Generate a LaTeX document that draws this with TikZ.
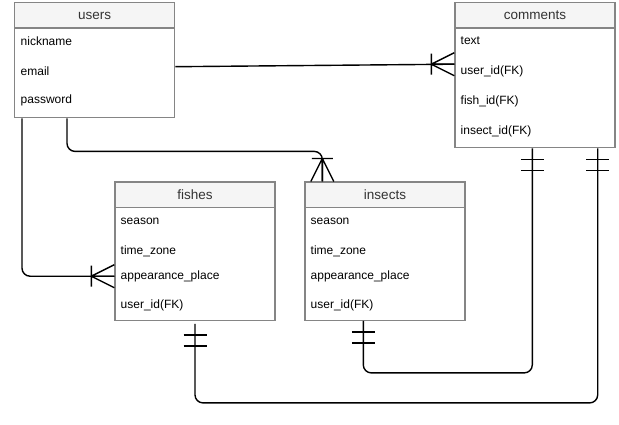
\documentclass[tikz,border=0pt]{standalone}
\usepackage{fontspec}
\setmainfont{Liberation Sans}
\usetikzlibrary{positioning, calc}
\definecolor{boxline}{HTML}{858585}
\definecolor{headfill}{HTML}{F5F5F5}
\definecolor{headtext}{HTML}{333333}

\begin{document}
\begin{tikzpicture}[x=1pt, y=-1pt]
    \tikzstyle{table} = [rectangle, draw=boxline, line width=1.4pt, fill=white, minimum width=160pt, anchor=north west, inner sep=0]
    \tikzstyle{head} = [rectangle, draw=boxline, line width=1.4pt, fill=headfill, minimum width=160pt, minimum height=25.5pt, anchor=north, text=headtext, font=\fontsize{13.5}{16}\selectfont]
    \tikzstyle{field} = [anchor=west, inner sep=0, font=\fontsize{12}{14}\selectfont]
    \tikzstyle{rel} = [line width=1.4pt, line join=round]
    \tikzset{
        crow/.pic={\draw[rel] (-23,-10.5) -- (-23,10.5) (-23,0) -- (0,-11.5) (-23,0) -- (0,11.5) (-23,0) -- (0,0);},
        onlyone/.pic={\draw[rel] (-11,-11.5) -- (-11,11.5) (-22,-11.5) -- (-22,11.5);}
    }
    \useasboundingbox (0,0) rectangle (619,425);

    % users
    \node[table, minimum height=115pt] (users) at (14,2) {};
    \node[head] (usershead) at (users.north) {users};
    \node[field] (usersnick) at (20.5,41.5) {nickname};
    \node[field] (usersmail) at (20.5,71) {email};
    \node[field] (userspass) at (20.5,100.7) {password};

    % comments
    \node[table, minimum height=145pt] (comments) at (454.3,2) {};
    \node[head] (commentshead) at (comments.north) {comments};
    \node[field] (commentstext) at (460.5,41) {text};
    \node[field] (commentsuser) at (460.5,71.5) {user\_id(FK)};
    \node[field] (commentsfish) at (460.5,101) {fish\_id(FK)};
    \node[field] (commentsinsect) at (460.5,131) {insect\_id(FK)};

    % fishes
    \node[table, minimum height=138pt] (fishes) at (114.3,181.5) {};
    \node[head] (fisheshead) at (fishes.north) {fishes};
    \node[field] (fishesseason) at (120.5,221) {season};
    \node[field] (fisheszone) at (120.5,251) {time\_zone};
    \node[field] (fishesplace) at (120.5,276.7) {appearance\_place};
    \node[field] (fishesuser) at (120.5,305) {user\_id(FK)};

    % insects
    \node[table, minimum height=138pt] (insects) at (304.3,181.5) {};
    \node[head] (insectshead) at (insects.north) {insects};
    \node[field] (insectsseason) at (310.5,221) {season};
    \node[field] (insectszone) at (310.5,251) {time\_zone};
    \node[field] (insectsplace) at (310.5,276.7) {appearance\_place};
    \node[field] (insectsuser) at (310.5,305) {user\_id(FK)};

    % relations
    \draw[rel] ($(users.east)+(0,6.5)$) -- ($(comments.west)+(0,-11)$);
    \pic at ($(comments.west)+(0,-11)$) {crow};

    \draw[rel, rounded corners=8pt] ($(users.south west)+(53,0)$) -- ++(0,33) -| ($(insects.north west)+(18,0)$);
    \pic[rotate=-90] at ($(insects.north west)+(18,0)$) {crow};

    \draw[rel, rounded corners=8pt] ($(users.south west)+(8,0)$) |- ($(fishes.west)+(0,25)$);
    \pic at ($(fishes.west)+(0,25)$) {crow};

    \draw[rel, rounded corners=8pt] ($(fishes.south)+(0,3)$) -- ++(0,79) -| ($(comments.south east)+(-18,0)$);
    \pic[rotate=90] at ($(fishes.south)+(0,3)$) {onlyone};
    \pic[rotate=90] at ($(comments.south east)+(-18,0)$) {onlyone};

    \draw[rel, rounded corners=8pt] ($(insects.south west)+(59,0)$) -- ++(0,52) -| ($(comments.south west)+(78,0)$);
    \pic[rotate=90] at ($(insects.south west)+(59,0)$) {onlyone};
    \pic[rotate=90] at ($(comments.south west)+(78,0)$) {onlyone};
\end{tikzpicture}
\end{document}
